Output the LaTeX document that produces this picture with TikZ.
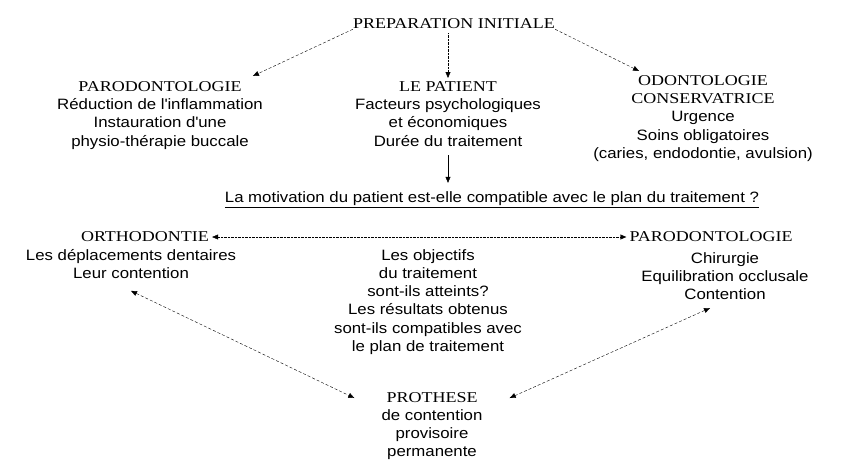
\documentclass[tikz,border=0pt]{standalone}
\usepackage{fontspec}
\setmainfont{Liberation Sans}[FakeStretch=1.12]
\newfontfamily\capsfont{Liberation Serif}[FakeStretch=1.2]
\usetikzlibrary{positioning,arrows.meta}
\newcommand{\headtxt}[1]{{\capsfont\fontsize{15}{18}\selectfont #1}}

\begin{document}
\begin{tikzpicture}[x=1pt,y=-1pt,
txt/.style={align=center,inner sep=0pt,anchor=north,font=\fontsize{15}{18.3}\selectfont},
head/.style={inner sep=0pt,font=\capsfont\fontsize{15}{18}\selectfont},
link/.style={-{Triangle[width=5pt,length=6pt]},densely dashed,thin},
both/.style={{Triangle[width=5pt,length=6pt]}-{Triangle[width=5pt,length=6pt]},densely dashed,thin}
]
\fill[white] (0,0) rectangle (845,466);
\useasboundingbox (0,0) rectangle (845,466);
% top row
\node[head] (prep) at (454,24) {PREPARATION INITIALE};
\node[txt] (paroL) at (160,81) {\headtxt{PARODONTOLOGIE}\\Réduction de l\textquotesingle inflammation\\Instauration d\textquotesingle une\\physio-thérapie buccale};
\node[txt] (patient) at (448,81) {\headtxt{LE PATIENT}\\Facteurs psychologiques\\et économiques\\Durée du traitement};
\node[txt] (odonto) at (703,75) {\headtxt{ODONTOLOGIE}\\\headtxt{CONSERVATRICE}\\Urgence\\Soins obligatoires\\(caries, endodontie, avulsion)};
% question
\node[inner sep=0pt,font=\fontsize{15}{18}\selectfont] (motiv) at (492,200) {\underline{La motivation du patient est-elle compatible avec le plan du traitement ?}};
% middle row
\node[head] (orthoH) at (145,237) {ORTHODONTIE};
\node[txt] (orthoB) at (131,249) {Les déplacements dentaires\\Leur contention};
\node[head] (paroH) at (711,237) {PARODONTOLOGIE};
\node[txt] (paroB) at (725,252) {Chirurgie\\Equilibration occlusale\\Contention};
\node[txt] (goal) at (428,249) {Les objectifs\\du traitement\\sont-ils atteints?\\Les résultats obtenus\\sont-ils compatibles avec\\le plan de traitement};
% bottom
\node[head] (proth) at (432,398) {PROTHESE};
\node[txt,below=6pt of proth] (prothB) {de contention\\provisoire\\permanente};
% connectors
\draw[link] (prep.south west) -- ([xshift=-10pt,yshift=5pt]paroL.north east);
\draw[link,densely dotted,shorten <=4pt,shorten >=3pt] (prep.south -| patient.north) -- (patient.north);
\draw[link] (prep.south east) -- ([xshift=-64pt,yshift=4pt]odonto.north);
\draw[-{Triangle[width=5pt,length=6pt]},thin,shorten <=9pt,shorten >=9pt] (patient.south) -- (motiv.north -| patient.south);
\draw[both,densely dotted,shorten <=3pt,shorten >=3pt] (orthoH.east) -- (paroH.west);
\draw[both] ([yshift=-12pt]orthoB.south) -- ([xshift=-32pt]proth.west);
\draw[both] ([xshift=-15pt,yshift=-8pt]paroB.south) -- ([xshift=32pt]proth.east);
\end{tikzpicture}
\end{document}
